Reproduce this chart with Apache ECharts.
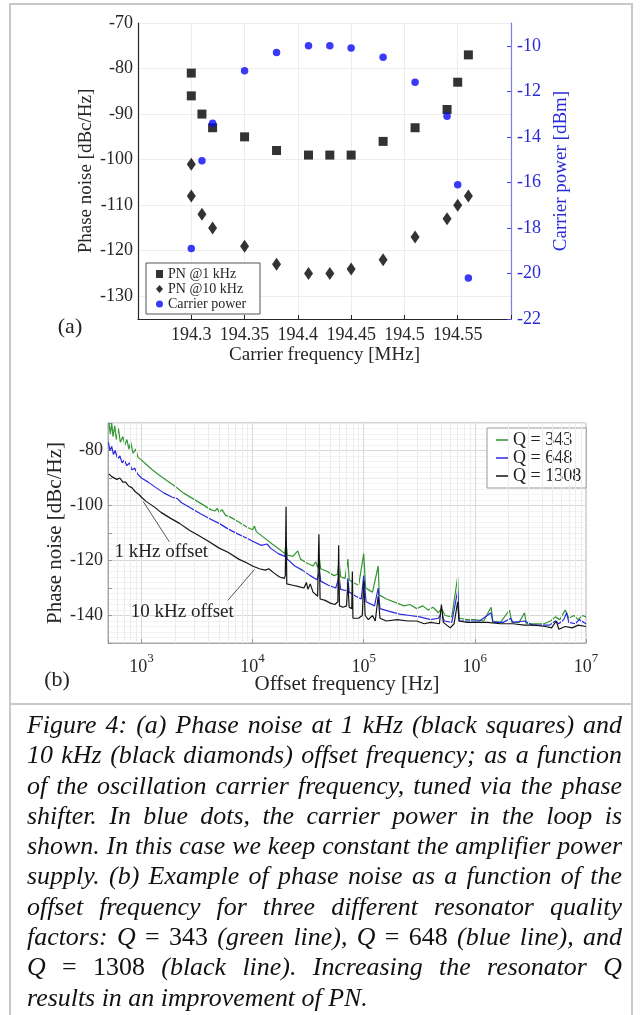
<!DOCTYPE html>
<html><head><meta charset="utf-8">
<script src="https://cdn.jsdelivr.net/npm/echarts@6/dist/echarts.min.js"></script>
<style>
html,body{margin:0;padding:0;background:#fff;}
body{width:640px;height:1015px;overflow:hidden;position:relative;font-family:'Liberation Serif',serif;}
#chart{position:absolute;left:0;top:0;width:640px;height:705px;}
.frame{position:absolute;border:2px solid #c8c8c8;box-sizing:border-box;pointer-events:none;}
#cap{position:absolute;left:27px;top:710px;width:595px;font-style:italic;color:#111;font-size:24px;}
#cap .ln{height:30.3px;line-height:30.3px;text-align:justify;text-align-last:justify;white-space:normal;}
#cap .ln.last{text-align-last:left;}
#cap .mn{font-style:normal;}
</style></head>
<body>
<div id="chart"></div>
<div class="frame" style="left:9px;top:3px;width:624px;height:702px;"></div>
<div class="frame" style="left:9px;top:703px;width:624px;height:330px;"></div>
<div id="cap">
<div class="ln">Figure 4: (a) Phase noise at 1 kHz (black squares) and</div>
<div class="ln">10 kHz (black diamonds) offset frequency; as a function</div>
<div class="ln">of the oscillation carrier frequency, tuned via the phase</div>
<div class="ln">shifter. In blue dots, the carrier power in the loop is</div>
<div class="ln">shown. In this case we keep constant the amplifier power</div>
<div class="ln">supply. (b) Example of phase noise as a function of the</div>
<div class="ln">offset frequency for three different resonator quality</div>
<div class="ln">factors: Q<span class="mn"> = 343</span> (green line), Q<span class="mn"> = 648</span> (blue line), and</div>
<div class="ln">Q<span class="mn"> = 1308</span> (black line). Increasing the resonator Q</div>
<div class="ln last">results in an improvement of PN.</div>
</div>
<script>
// ---------- Panel (a) data ----------
const pnFreq = [194.30,194.30,194.31,194.32,194.35,194.38,194.41,194.43,194.45,194.48,194.51,194.54,194.55,194.56];
const pn1kHz = [-81,-86,-90,-93,-95,-98,-99,-99,-99,-96,-93,-89,-83,-77];
const pn10kHz = [-101,-108,-112,-115,-119,-123,-125,-125,-124,-122,-117,-113,-110,-108];
const powFreq = [194.30,194.31,194.32,194.35,194.38,194.41,194.43,194.45,194.48,194.51,194.54,194.55,194.56];
const carrierPower = [-18.9,-15.05,-13.4,-11.1,-10.3,-10.0,-10.0,-10.1,-10.5,-11.6,-13.1,-16.1,-20.2];

// ---------- Panel (b) data ----------
const greenF = [510,525,540,555,575,595,620,645,680,710,740,770,800,840,890,930,1000,1100,1250,1450,1700,2000,2400,2900,3500,4200,4600,4800,5000,5300,5700,6500,7500,9000,10000,10400,10800,12500,15000,17500,19500,20000,20500,23000,25500,27000,31000,35000,37000,38500,40000,41000,47000,54000,58000,60000,62000,68000,72000,74000,80000,90000,100000,104000,120000,135000,138000,160000,200000,230000,260000,300000,340000,380000,420000,470000,500000,540000,620000,700000,720000,850000,1000000,1200000,1400000,1450000,1700000,2050000,2150000,2500000,2800000,2900000,3500000,4200000,4800000,5300000,5800000,6500000,7000000,7800000,8500000,9300000,10000000];
const greenV = [-70,-74,-70,-75,-71,-76,-72,-77,-75,-78,-76,-79.5,-77,-81,-79.5,-82.5,-83.5,-85,-87,-89,-91,-93,-95.5,-97.5,-99.5,-101.5,-102,-101,-102.5,-101.5,-103.5,-104.5,-106,-108,-108.8,-107.5,-109.5,-111.5,-114,-116,-117.5,-113,-118,-118.5,-116.5,-119.5,-121,-122,-120.5,-122.5,-119.5,-123,-124,-125.5,-125,-120,-126,-126.5,-119.5,-127,-128,-129,-117.5,-130,-131.5,-122,-132.5,-134,-135.5,-136.5,-136,-137.5,-136.5,-138,-137,-139,-137.5,-140,-140.5,-126,-141,-141.5,-141.5,-142,-137,-142,-142.5,-138,-142.5,-142.5,-139,-143,-143,-143,-142,-140.5,-141.5,-138,-141,-140,-141.5,-140,-140.5];

const blueF = [505,520,540,560,580,610,640,670,700,740,780,820,870,920,1000,1150,1350,1600,1900,2100,2300,2800,3400,4200,5000,6000,7500,9000,10000,12000,13500,14500,17000,19500,20000,20500,24000,28000,33000,38000,40000,41000,48000,56000,60000,62000,70000,72000,74000,85000,95000,100000,105000,125000,135000,140000,170000,210000,260000,320000,400000,470000,500000,530000,620000,700000,720000,900000,1100000,1400000,1450000,1800000,2100000,2200000,2800000,3300000,4000000,4700000,5300000,5700000,6300000,6700000,7000000,8000000,8700000,10000000];
const blueV = [-77,-80,-78.5,-81.5,-80,-83,-82,-84.5,-83.5,-85.5,-84.5,-87,-86.5,-88.5,-90,-91.5,-93.5,-95.5,-97,-97.5,-99,-101,-103,-105,-106.5,-108.5,-110.5,-112,-113,-114.5,-114,-115.5,-117.5,-118.5,-116,-119.5,-122,-123.5,-125.5,-127,-124,-127.5,-129,-130,-126,-130.5,-131,-126.5,-131.5,-133,-134,-125.5,-135,-136.5,-130,-137.5,-138.5,-139.5,-140,-140.5,-141.5,-141,-139,-142,-142.5,-131,-142,-142,-142,-139,-142.5,-142.5,-141,-142.5,-142,-143.5,-143.5,-143.5,-142,-143,-141.5,-139,-142.5,-143,-141.5,-143];

const blackF = [510,540,560,600,640,680,720,770,820,880,950,1000,1100,1300,1500,1800,2200,2700,3300,4000,5000,6000,7500,9000,10000,11500,13000,14000,15500,17500,19300,19700,20000,20300,23000,26000,29000,30500,31500,33000,35000,38500,39500,40500,45000,50000,55000,58500,59500,60500,65000,70000,72000,74000,78000,79000,80000,90000,97000,100000,103000,110000,120000,127000,135000,140000,160000,200000,250000,300000,350000,400000,480000,500000,520000,600000,650000,700000,720000,850000,1000000,1300000,1700000,2200000,2800000,3500000,4300000,4900000,5400000,5700000,6500000,7500000,8500000,10000000];
const blackV = [-88.5,-89.5,-89,-90.5,-90,-91.5,-91.5,-93,-93.5,-95,-96,-97,-98.5,-100.5,-102.5,-104.5,-106.5,-109,-111,-113,-115.5,-117,-119.5,-121,-122,-123,-123.5,-123,-124.5,-126,-126.5,-125.5,-100.5,-128.5,-129,-129.5,-130,-128,-130.5,-128.5,-131.5,-133,-110.5,-134,-134.5,-135.5,-136,-135,-114.5,-136.5,-137,-136.5,-128,-137,-137.5,-124,-141,-141,-140,-127.5,-140,-141.5,-140,-142,-133,-141,-142,-141.5,-142,-142,-143,-142.5,-143,-136,-142.5,-144.5,-143,-135,-142,-142.5,-142.5,-142.5,-143,-143,-143.5,-143.5,-144,-144.5,-142,-145,-144,-144.5,-143.5,-144];

const legendB = ['Q = 343','Q = 648','Q = 1308'];
const minorX = [600,700,800,900,2000,3000,4000,5000,6000,7000,8000,9000,20000,30000,40000,50000,60000,70000,80000,90000,200000,300000,400000,500000,600000,700000,800000,900000,2000000,3000000,4000000,5000000,6000000,7000000,8000000,9000000];

const zip = (a,b)=>a.map((x,i)=>[x,b[i]]);
const SERIF = 'Liberation Serif';

const chart = echarts.init(document.getElementById('chart'), null, {renderer:'canvas'});
const opt = {
  animation:false,
  backgroundColor:'transparent',
  textStyle:{fontFamily:SERIF},
  grid:[
    {left:138, top:23, width:373, height:296, containLabel:false, outerBoundsMode:'none'},
    {left:108, top:423, width:478, height:220, containLabel:false, outerBoundsMode:'none', show:true, borderColor:'#a8a8a8', borderWidth:1, backgroundColor:'transparent'}
  ],
  legend:[
    {orient:'vertical', left:146, top:263, padding:[4,6,3,10], itemGap:1, itemWidth:7, itemHeight:8,
     backgroundColor:'#fff', borderColor:'#555', borderWidth:1, selectedMode:false,
     textStyle:{fontFamily:SERIF, fontSize:14, color:'#262626', lineHeight:14, width:86, overflow:'none'},
     data:[{name:'PN @1 kHz', icon:'rect'},{name:'PN @10 kHz', icon:'diamond'},{name:'Carrier power', icon:'circle'}]},
    {orient:'vertical', left:487, top:428, padding:[3,5,3,9], itemGap:0, itemWidth:12, itemHeight:1.5, icon:'rect',
     backgroundColor:'#fff', borderColor:'#999', borderWidth:1, selectedMode:false,
     textStyle:{fontFamily:SERIF, fontSize:18, color:'#222', lineHeight:17},
     data:legendB}
  ],
  xAxis:[
    {type:'value', gridIndex:0, min:194.25, max:194.6, interval:0.05, position:'bottom',
     axisLine:{show:true, onZero:false, lineStyle:{color:'#262626', width:1.2}},
     axisTick:{show:true, inside:true, length:4, lineStyle:{color:'#262626'}},
     axisLabel:{fontFamily:SERIF, fontSize:18, color:'#262626', margin:7,
       formatter:v=>(v>194.28 && v<194.57) ? String(+(+v).toFixed(2)) : ''},
     splitLine:{show:true, lineStyle:{color:'#ededed'}},
     name:'Carrier frequency [MHz]', nameLocation:'middle', nameGap:27, nameMoveOverlap:false,
     nameTextStyle:{fontFamily:SERIF, fontSize:19, color:'#262626'}},
    {type:'log', gridIndex:1, min:500, max:10000000, logBase:10, position:'bottom',
     axisLine:{show:true, onZero:false, lineStyle:{color:'#a8a8a8'}},
     axisTick:{show:true, inside:true, length:4, lineStyle:{color:'#999'}},
     axisLabel:{fontFamily:SERIF, color:'#262626', margin:9,
       formatter:v=>{const l=Math.log10(v); const r=Math.round(l); return Math.abs(l-r)<1e-6 ? '{b|10}{s|'+r+'}' : '';},
       rich:{b:{fontFamily:SERIF, fontSize:18, color:'#262626', lineHeight:24, verticalAlign:'bottom'},
             s:{fontFamily:SERIF, fontSize:13, color:'#262626', lineHeight:13, verticalAlign:'top'}}},
     splitLine:{show:true, lineStyle:{color:'#d8d8d8'}},
     name:'Offset frequency [Hz]', nameLocation:'middle', nameGap:31, nameMoveOverlap:false,
     nameTextStyle:{fontFamily:SERIF, fontSize:21, color:'#262626'}}
  ],
  yAxis:[
    {type:'value', gridIndex:0, min:-135, max:-70, interval:5, position:'left',
     axisLine:{show:true, onZero:false, lineStyle:{color:'#262626', width:1.2}},
     axisTick:{show:false},
     axisLabel:{fontFamily:SERIF, fontSize:18, color:'#262626', margin:5,
       formatter:v=>(Math.round(v)%10===0) ? String(Math.round(v)) : ''},
     splitLine:{show:true, lineStyle:{color:['transparent','#ededed']}},
     name:'Phase noise [dBc/Hz]', nameLocation:'middle', nameGap:42, nameRotate:90, nameMoveOverlap:false,
     nameTextStyle:{fontFamily:SERIF, fontSize:19, color:'#262626'}},
    {type:'value', gridIndex:0, min:-22, max:-9, interval:2, position:'right',
     axisLine:{show:true, onZero:false, lineStyle:{color:'#7b7bf0', width:1.2}},
     axisTick:{show:true, inside:true, length:4, lineStyle:{color:'#4a4ae6'}},
     axisLabel:{fontFamily:SERIF, fontSize:18, color:'#2a2ad8', margin:6, showMaxLabel:false,
       formatter:v=>(Math.round(v)%2===0 && Math.abs(v-Math.round(v))<1e-6) ? String(Math.round(v)) : ''},
     splitLine:{show:false},
     name:'Carrier power [dBm]', nameLocation:'middle', nameGap:41, nameRotate:90, nameMoveOverlap:false,
     nameTextStyle:{fontFamily:SERIF, fontSize:19, color:'#2a2ad8'}},
    {type:'value', gridIndex:1, min:-150, max:-70, interval:10, position:'left',
     axisLine:{show:true, onZero:false, lineStyle:{color:'#a8a8a8'}},
     axisTick:{show:true, inside:true, length:4, lineStyle:{color:'#999'}},
     axisLabel:{fontFamily:SERIF, fontSize:18, color:'#262626', margin:5,
       formatter:v=>(Math.round(v+80)%20===0) ? String(Math.round(v)) : ''},
     splitLine:{show:true, lineStyle:{color:['#ececec','#d8d8d8']}},
     minorTick:{show:false, splitNumber:5},
     minorSplitLine:{show:true, lineStyle:{color:'#f3f3f3'}},
     name:'Phase noise [dBc/Hz]', nameLocation:'middle', nameGap:42, nameRotate:90, nameMoveOverlap:false,
     nameTextStyle:{fontFamily:SERIF, fontSize:21, color:'#262626'}}
  ],
  series:[
    {name:'PN @1 kHz', type:'scatter', xAxisIndex:0, yAxisIndex:0, symbol:'rect', symbolSize:9,
     itemStyle:{color:'#000'}, data:zip(pnFreq, pn1kHz), z:3},
    {name:'PN @10 kHz', type:'scatter', xAxisIndex:0, yAxisIndex:0, symbol:'diamond', symbolSize:[9,13],
     itemStyle:{color:'#000'}, data:zip(pnFreq, pn10kHz), z:3},
    {name:'Carrier power', type:'scatter', xAxisIndex:0, yAxisIndex:1, symbol:'circle', symbolSize:7.5,
     itemStyle:{color:'#0a0af5'}, data:zip(powFreq, carrierPower), z:4},
    {name:'minor-grid', type:'line', xAxisIndex:1, yAxisIndex:2, data:[], silent:true, z:1,
     markLine:{silent:true, symbol:['none','none'], label:{show:false}, animation:false,
       lineStyle:{color:'#ececec', width:1, type:'solid'}, emphasis:{disabled:true},
       data:minorX.map(v=>({xAxis:v}))}},
    {name:'Q = 343', type:'line', xAxisIndex:1, yAxisIndex:2, showSymbol:false, symbol:'none', clip:true,
     lineStyle:{color:'#329632', width:1.2}, itemStyle:{color:'#329632'}, data:zip(greenF, greenV), z:3},
    {name:'Q = 648', type:'line', xAxisIndex:1, yAxisIndex:2, showSymbol:false, symbol:'none', clip:true,
     lineStyle:{color:'#2a2ae0', width:1.2}, itemStyle:{color:'#2a2ae0'}, data:zip(blueF, blueV), z:4},
    {name:'Q = 1308', type:'line', xAxisIndex:1, yAxisIndex:2, showSymbol:false, symbol:'none', clip:true,
     lineStyle:{color:'#151515', width:1.2}, itemStyle:{color:'#151515'}, data:zip(blackF, blackV), z:5},
    {name:'arrows', type:'line', xAxisIndex:1, yAxisIndex:2, data:[], silent:true, z:6,
     markLine:{silent:true, symbol:['none','arrow'], symbolSize:[0,9], label:{show:false}, animation:false,
       lineStyle:{color:'#555', width:1, type:'solid'}, emphasis:{disabled:true},
       data:[
         [{coord:[1780,-113.2]},{coord:[1036,-98.5]}],
         [{coord:[5990,-134.5]},{coord:[10380,-123.3]}]
       ]}}
  ]
};
chart.setOption(opt);
const t1 = chart.convertToPixel({xAxisIndex:1, yAxisIndex:2}, [1510,-116.8]);
const t2 = chart.convertToPixel({xAxisIndex:1, yAxisIndex:2}, [2330,-138.7]);
const txt = (x,y,s,size)=>({type:'text', x:x, y:y, z:10, style:{text:s, font:size+'px "Liberation Serif"', fill:'#222', textAlign:'center', textVerticalAlign:'middle', align:'center', verticalAlign:'middle'}});
chart.setOption({graphic:[
  txt(t1[0], t1[1], '1 kHz offset', 19),
  txt(t2[0], t2[1], '10 kHz offset', 19),
  txt(70, 327, '(a)', 22),
  txt(57, 680, '(b)', 22)
]});

// caption fit
const cap = document.getElementById('cap');
const lines = cap.querySelectorAll('.ln');
let maxW = 0;
lines.forEach((l,i)=>{
  if(i>8) return;
  const s = document.createElement('span');
  s.innerHTML = l.innerHTML;
  s.style.cssText = 'position:absolute;visibility:hidden;white-space:nowrap;font-style:italic;font-size:20px;font-family:"Liberation Serif";';
  document.body.appendChild(s);
  maxW = Math.max(maxW, s.getBoundingClientRect().width);
  s.remove();
});
cap.style.fontSize = Math.min(26, 20*592/maxW) + 'px';
</script>
</body></html>
